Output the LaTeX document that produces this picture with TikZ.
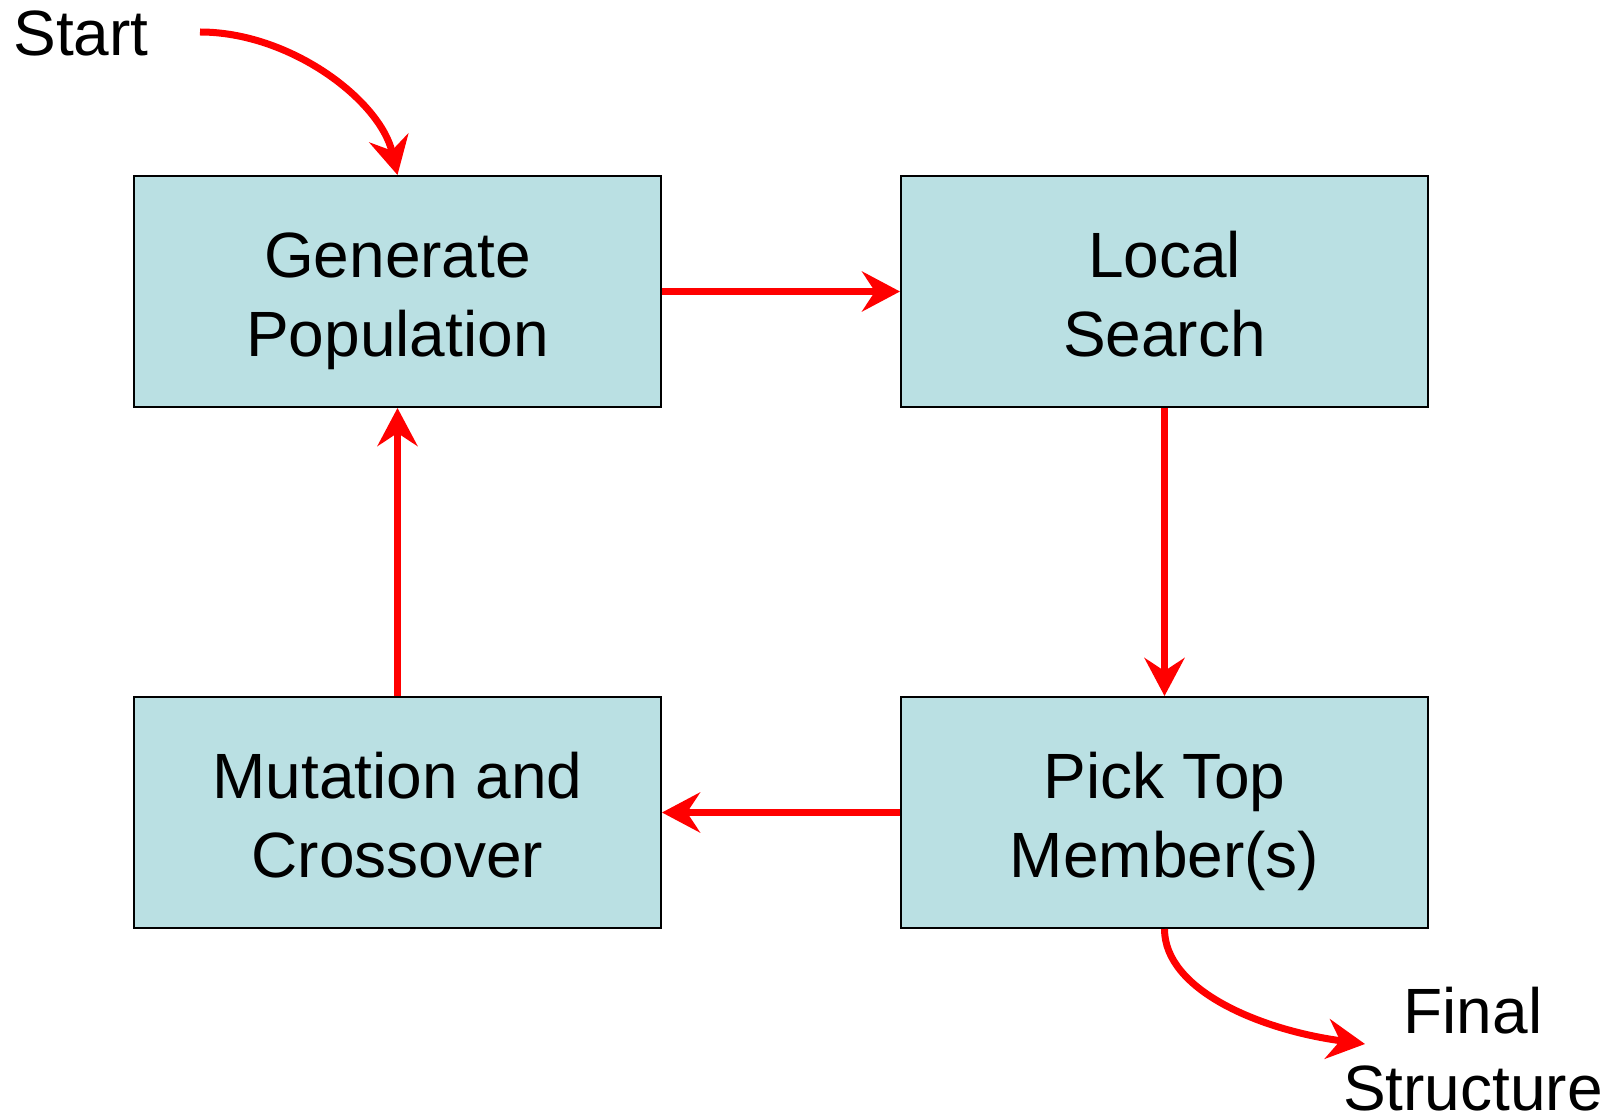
\documentclass[tikz,border=0pt]{standalone}
\usepackage{fontspec}
\setmainfont{Liberation Sans}
\usetikzlibrary{arrows.meta}
\definecolor{boxfill}{RGB}{186,224,227}
\definecolor{arrowred}{RGB}{255,0,0}
\newcommand{\lnstrut}{\rule[-14pt]{0pt}{78pt}}
\begin{document}
\begin{tikzpicture}[x=1pt,y=-1pt,
  stepbox/.style={draw=black, line width=2pt, fill=boxfill, minimum width=527pt, minimum height=231pt, inner sep=0pt, align=center, font=\fontsize{64}{77}\selectfont},
  flow/.style={draw=arrowred, line width=7pt, -{Stealth[length=38pt,width=40pt,inset=13pt]}},
  lbl/.style={inner sep=0pt, align=center, font=\fontsize{64}{77}\selectfont}]
\useasboundingbox (0,0) rectangle (1624,1115);
\node[stepbox] (gen) at (397.5,291.5) {\lnstrut Generate\\\lnstrut Population};
\node[stepbox] (loc) at (1164.5,291.5) {\lnstrut Local\\\lnstrut Search};
\node[stepbox] (mut) at (397.5,812.5) {\lnstrut Mutation and\\\lnstrut Crossover};
\node[stepbox] (pick) at (1164.5,812.5) {\lnstrut Pick Top\\\lnstrut Member(s)};
\node[lbl, anchor=base] (start) at (81,56) {Start};
\node[lbl, anchor=base] (final) at (1473,1110) {Final\\Structure};
\coordinate (s0) at (200,32);
\coordinate (f1) at (1365,1044);
\draw[flow] (gen.east) -- (loc.west);
\draw[flow] (loc.south) -- (pick.north);
\draw[flow] (pick.west) -- (mut.east);
\draw[flow] (mut.north) -- (gen.south);
\draw[flow] (s0) .. controls (290,32) and (380,100) .. (gen.north);
\draw[flow] (pick.south) .. controls (1164.5,990) and (1260,1030) .. (f1);
\end{tikzpicture}
\end{document}
